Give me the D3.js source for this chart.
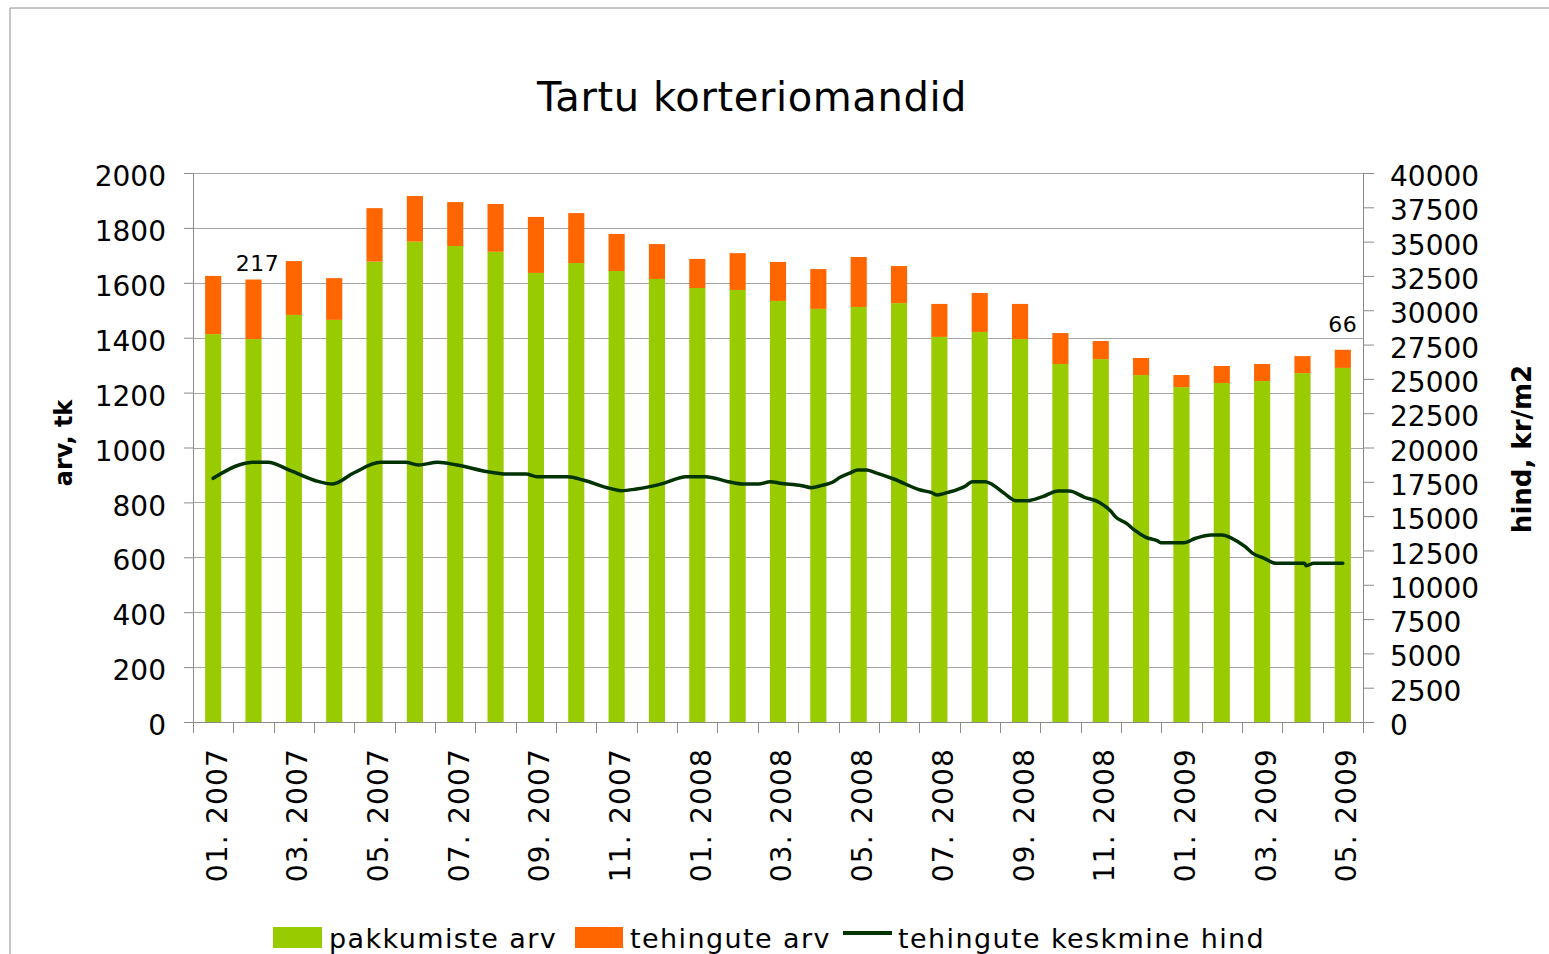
<!DOCTYPE html>
<html>
<head>
<meta charset="utf-8">
<script src="https://cdn.jsdelivr.net/npm/d3@7"></script>
<style>
  html, body { margin: 0; padding: 0; background: #fff; }
  svg { display: block; }
  text { font-family: "DejaVu Sans", sans-serif; fill: #000; }
</style>
</head>
<body>
<svg id="chart" width="1549" height="954"></svg>
<script>
// ---- data ----
const months = ["01. 2007","02. 2007","03. 2007","04. 2007","05. 2007","06. 2007","07. 2007","08. 2007","09. 2007","10. 2007","11. 2007","12. 2007",
                "01. 2008","02. 2008","03. 2008","04. 2008","05. 2008","06. 2008","07. 2008","08. 2008","09. 2008","10. 2008","11. 2008","12. 2008",
                "01. 2009","02. 2009","03. 2009","04. 2009","05. 2009"];
const offers = [1413,1395,1483,1465,1677,1750,1734,1713,1636,1672,1643,1614,1581,1574,1534,1505,1512,1526,1403,1421,1395,1304,1322,1264,1220,1235,1242,1271,1290];
const deals  = [212,217,196,152,195,166,160,174,204,182,135,127,106,134,142,145,182,135,120,142,128,113,66,62,44,62,62,62,66];
// average price line, position in months from 01.2007 and value in kr/m2
const priceT = [0,0.64,0.98,1.35,1.92,2.54,2.96,3.48,4.15,4.76,5.09,5.57,6.04,6.89,7.27,7.75,8.03,8.79,9.17,9.83,10.11,10.49,11.16,11.72,12.2,12.77,13.14,13.52,13.81,14.05,
                14.59,14.83,15.07,15.35,15.54,15.82,15.97,16.2,16.39,16.87,17.53,17.81,17.95,18.19,18.66,18.81,19.14,19.33,19.61,19.9,20.18,20.56,20.94,21.22,21.6,21.98,
                22.26,22.36,22.64,22.83,23.12,23.4,23.49,24.06,24.35,24.73,25.01,25.25,25.58,25.77,26.05,26.34,27.05,27.09,27.28,28];
const priceV = [17756,18725,18920,18920,18310,17580,17340,18140,18920,18920,18725,18920,18725,18190,18070,18070,17875,17875,17630,17025,16855,16975,17390,17875,17875,17510,17340,17340,17510,17400,
                17220,17075,17220,17465,17830,18190,18360,18360,18190,17705,16900,16710,16540,16710,17220,17510,17510,17270,16660,16125,16125,16415,16830,16830,16370,15980,
                15325,14960,14475,13990,13455,13210,13065,13065,13385,13625,13625,13385,12775,12290,11925,11560,11560,11390,11560,11560];
const leftTicks = d3.range(0, 2001, 200);
const rightTicks = d3.range(0, 40001, 2500);
const labeledBars = [1, 28];
const seriesNames = ["pakkumiste arv", "tehingute arv", "tehingute keskmine hind"];
const colors = ["#99CC00", "#FF6600", "#003300"];

// ---- layout ----
const svg = d3.select("#chart");
const L = 193, R = 1363, T = 173, B = 722;
const x = d3.scaleBand().domain(months).range([L, R]).paddingInner(0.6).paddingOuter(0.3);
const yL = d3.scaleLinear().domain([0, 2000]).range([B, T]);
const yR = d3.scaleLinear().domain([0, 40000]).range([B, T]);
const xc = i => x(months[i]) + x.bandwidth() / 2;
const xLin = d3.scaleLinear().domain([0, months.length - 1]).range([xc(0), xc(months.length - 1)]);

// outer border
svg.append("path").attr("d", "M10,954V8H1549").attr("fill", "none").attr("stroke", "#8c8c8c").attr("stroke-width", 1);

// title
svg.append("text").attr("x", 752).attr("y", 111).attr("text-anchor", "middle")
  .style("font-size", "40px").style("letter-spacing", "0.6px").text("Tartu korteriomandid");

// gridlines
svg.append("g").selectAll("line").data(leftTicks.filter(d => d > 0)).join("line")
  .attr("x1", L).attr("x2", R)
  .attr("y1", d => Math.round(yL(d)) + 0.5).attr("y2", d => Math.round(yL(d)) + 0.5)
  .attr("stroke", "#a6a6a6").attr("stroke-width", 1);

// bars
const stack = d3.stack().keys([0, 1]).value((d, k) => k === 0 ? d.o : d.t);
const rows = months.map((m, i) => ({ m, o: offers[i], t: deals[i] }));
const layers = stack(rows);
svg.append("g").selectAll("g").data(layers).join("g")
  .attr("fill", (d, i) => colors[i])
  .selectAll("rect").data(d => d).join("rect")
  .attr("x", d => x(d.data.m))
  .attr("width", x.bandwidth())
  .attr("y", d => yL(d[1]))
  .attr("height", d => yL(d[0]) - yL(d[1]));

// price line
const line = d3.line().x((d, i) => xLin(priceT[i])).y(d => yR(d)).curve(d3.curveMonotoneX);
svg.append("path").datum(priceV).attr("d", line)
  .attr("fill", "none").attr("stroke", colors[2]).attr("stroke-width", 3.5)
  .attr("stroke-linejoin", "round").attr("stroke-linecap", "round");

// axes
const axisColor = "#8a8a8a";
const fmt = d3.format("d");
const gl = svg.append("g").attr("transform", `translate(${L},0)`)
  .call(d3.axisLeft(yL).tickValues(leftTicks).tickFormat(fmt).tickSize(9).tickPadding(18));
const gr = svg.append("g").attr("transform", `translate(${R},0)`)
  .call(d3.axisRight(yR).tickValues(rightTicks).tickFormat(fmt).tickSize(11).tickPadding(16));
[gl, gr].forEach(g => {
  g.selectAll("path, line").attr("stroke", axisColor);
  g.selectAll("text").attr("dy", "0.45em").style("font-size", "28px")
    .style("font-family", "DejaVu Sans").attr("fill", "#000");
});

// x axis: baseline, boundary ticks, labels
const gx = svg.append("g");
gx.append("line").attr("x1", L).attr("x2", R).attr("y1", B + 0.5).attr("y2", B + 0.5).attr("stroke", axisColor);
const xb = d3.scaleLinear().domain([0, months.length]).range([L, R]);
gx.selectAll("line.tk").data(d3.range(months.length + 1)).join("line").attr("class", "tk")
  .attr("x1", d => Math.round(xb(d)) + 0.5).attr("x2", d => Math.round(xb(d)) + 0.5)
  .attr("y1", B).attr("y2", B + 11).attr("stroke", axisColor);
gx.selectAll("text").data(months.map((m, i) => i).filter(i => i % 2 === 0)).join("text")
  .attr("transform", i => `translate(${xc(i)},748) rotate(-90)`)
  .attr("text-anchor", "end").attr("dy", "0.48em")
  .style("font-size", "28px").style("letter-spacing", "1.2px").text(i => months[i]);

// data labels for deals
svg.append("g").selectAll("text").data(labeledBars).join("text")
  .attr("x", i => xc(i) + (i === 1 ? 4 : 0))
  .attr("y", i => yL(offers[i] + deals[i]) - (i === 1 ? 9 : 18))
  .attr("text-anchor", "middle").style("font-size", "22px").style("letter-spacing", "0.5px")
  .text(i => deals[i]);

// axis titles
svg.append("text").attr("transform", "translate(72,443) rotate(-90)").attr("text-anchor", "middle")
  .style("font-size", "24px").style("font-weight", "bold").text("arv, tk");
svg.append("text").attr("transform", "translate(1531,449) rotate(-90)").attr("text-anchor", "middle")
  .style("font-size", "26px").style("font-weight", "bold").text("hind, kr/m2");

// legend
const lg = svg.append("g");
const legendX = [273, 575, 843];
const textX = [329, 630, 898];
lg.append("rect").attr("x", legendX[0]).attr("y", 927).attr("width", 49).attr("height", 21).attr("fill", colors[0]);
lg.append("rect").attr("x", legendX[1]).attr("y", 927).attr("width", 48).attr("height", 21).attr("fill", colors[1]);
lg.append("line").attr("x1", legendX[2]).attr("x2", legendX[2] + 49).attr("y1", 933).attr("y2", 933)
  .attr("stroke", colors[2]).attr("stroke-width", 4);
lg.selectAll("text").data(seriesNames).join("text")
  .attr("x", (d, i) => textX[i]).attr("y", 948)
  .style("font-size", "27px").style("letter-spacing", "1.4px").text(d => d);
</script>
</body>
</html>
